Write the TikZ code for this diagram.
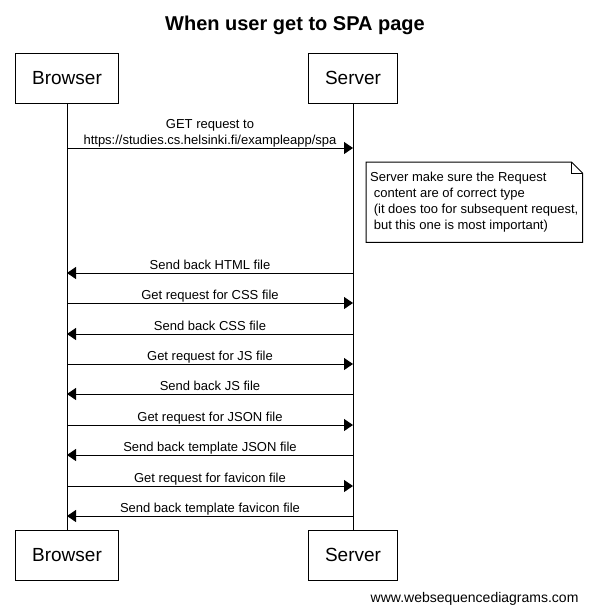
\documentclass[tikz,border=0pt]{standalone}
\usepackage{fontspec}
\setmainfont{Liberation Sans}
\usetikzlibrary{positioning, arrows.meta}

\begin{document}
\begin{tikzpicture}[x=1pt, y=-1pt, node distance=426pt]
    \tikzstyle{actor} = [draw, line width=1pt, minimum height=50pt, inner xsep=16.5pt, font=\fontsize{19}{19}\selectfont]
    \tikzstyle{msg} = [line width=1pt, -{Triangle[length=9pt, width=12pt]}]
    \tikzstyle{msgtext} = [font=\fontsize{13}{16}\selectfont, anchor=base, yshift=3.5pt]
    \useasboundingbox (0,0) rectangle (591,613);

    \node [font=\bfseries\fontsize{20}{24}\selectfont, anchor=base] (title) at (295,30) {When user get to SPA page};

    \node [actor] (B0) at (67,78) {Browser};
    \node [actor] (S0) at (353,78) {Server};
    \node [actor, below = of B0] (B1) {Browser};
    \node [actor, below = of S0] (S1) {Server};
    \draw [line width=1pt] (B0) -- (B1);
    \draw [line width=1pt] (S0) -- (S1);

    \foreach \i/\y in {1/148, 2/273, 3/303, 4/334, 5/364, 6/394, 7/425, 8/455, 9/486, 10/516} {
        \coordinate (b\i) at (B0 |- 0,\y);
        \coordinate (s\i) at (S0 |- 0,\y);
    }

    \draw [msg] (b1) -- (s1) node [font=\fontsize{13}{16}\selectfont, align=center, midway, above=0.5pt, inner sep=0pt] {GET request to\\https://studies.cs.helsinki.fi/exampleapp/spa};

    \node [anchor=north west, minimum width=216pt, minimum height=80pt, inner xsep=4pt, align=left, font=\fontsize{13}{16}\selectfont] (note) at (366,162) {Server make sure the Request\\\ content are of correct type\\\ (it does too for subsequent request,\\\ but this one is most important)};
    \draw [line width=1pt] (note.north west) -- ([xshift=-11pt]note.north east) -- ([yshift=-11pt]note.north east) -- (note.south east) -- (note.south west) -- cycle;
    \draw [line width=1pt] ([xshift=-11pt]note.north east) |- ([yshift=-11pt]note.north east);

    \foreach \i/\a/\b/\txt in {2/s/b/Send back HTML file, 3/b/s/Get request for CSS file, 4/s/b/Send back CSS file, 5/b/s/Get request for JS file, 6/s/b/Send back JS file, 7/b/s/Get request for JSON file, 8/s/b/Send back template JSON file, 9/b/s/Get request for favicon file, 10/s/b/Send back template favicon file}
        \draw [msg] (\a\i) -- (\b\i) node [msgtext, midway] {\txt};

    \node [font=\fontsize{14}{14}\selectfont, anchor=base east] (footer) at (582,602) {www.websequencediagrams.com};
\end{tikzpicture}
\end{document}
